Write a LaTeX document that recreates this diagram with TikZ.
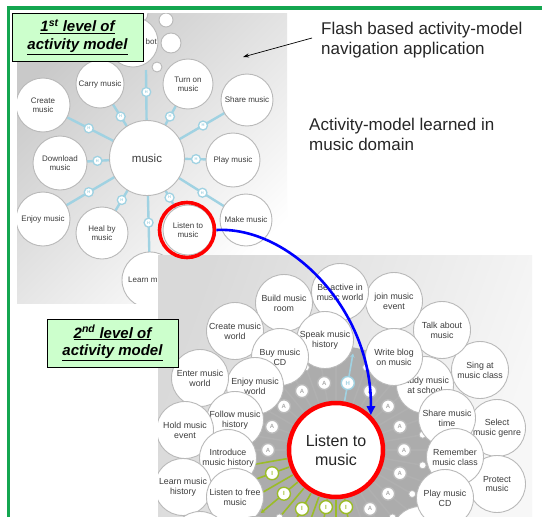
\documentclass[tikz,border=0pt]{standalone}
\usepackage{fontspec}
\setmainfont{Liberation Sans}
\usetikzlibrary{arrows.meta,calc}
\definecolor{frameg}{RGB}{20,166,80}
\definecolor{labfill}{RGB}{204,255,204}
\definecolor{hblue}{RGB}{160,210,226}
\definecolor{igreen}{RGB}{155,188,40}
\definecolor{ringgray}{RGB}{172,172,172}
\definecolor{txt}{RGB}{60,60,60}
\tikzset{
  bub/.style={circle,draw=gray!55,fill=white,line width=0.9pt,align=center,inner sep=0pt,text=txt,font=\fontsize{8}{9}\selectfont},
  bubb/.style={bub,minimum size=57pt,font=\fontsize{8.8}{9.8}\selectfont},
  hbadge/.style={circle,draw=hblue,fill=white,line width=1.3pt,minimum size=9pt,inner sep=0pt,font=\fontsize{4}{4}\selectfont\bfseries,text=hblue},
  abadge/.style={circle,draw=gray!55,fill=white,line width=1.4pt,minimum size=13pt,inner sep=0pt,font=\fontsize{6}{6}\selectfont\bfseries,text=gray!65},
  ibadge/.style={abadge,draw=igreen,text=igreen},
  nub/.style={circle,draw=gray!55,fill=white,line width=0.8pt,minimum size=7pt,inner sep=0pt},
  lvlbox/.style={draw=black,line width=1pt,fill=labfill,align=center,font=\fontsize{15}{17.5}\selectfont\bfseries\itshape,inner sep=2pt,minimum width=131pt,minimum height=48pt},
  notetext/.style={align=left,font=\fontsize{17}{20}\selectfont,anchor=north west,inner sep=0pt,text=black!85},
  spoke/.style={draw=hblue,line width=2.4pt},
  gspoke/.style={draw=gray!62,line width=1.6pt,-{Stealth[length=4pt,width=4.5pt]}},
}
\begin{document}
\begin{tikzpicture}[x=1pt,y=-1pt]
\useasboundingbox (0,0) rectangle (542,517);
\fill[white] (0,0) rectangle (542,517);

% ---------- first level screenshot ----------
\begin{scope}
\clip (17,13) rectangle (287,303);
\shade[left color=gray!42, right color=white, shading angle=45] (17,13) rectangle (287,303);
\coordinate (Pm) at (147,158);
\coordinate (Pup) at (146,70);
\coordinate (Pcarry) at (100,84);
\coordinate (Pcreate) at (43,105);
\coordinate (Pturn) at (188,84);
\coordinate (Pshare) at (247,100);
\coordinate (Pdown) at (60,163);
\coordinate (Pplay) at (233,160);
\coordinate (Penjoy) at (43,219);
\coordinate (Pheal) at (102,233);
\coordinate (Plis) at (188,230);
\coordinate (Pmake) at (246,220);
\coordinate (Plearn) at (150,280);
\draw[spoke] (Pm) -- node[hbadge,pos=0.75] (h1) {H} (Pup);
\draw[spoke] (Pm) -- node[hbadge,pos=0.56] (h2) {H} (Pcarry);
\draw[spoke] (Pm) -- node[hbadge,pos=0.56] (h3) {H} (Pcreate);
\draw[spoke] (Pm) -- node[hbadge,pos=0.56] (h4) {H} (Pturn);
\draw[spoke] (Pm) -- node[hbadge,pos=0.56] (h5) {H} (Pshare);
\draw[spoke] (Pm) -- node[hbadge,pos=0.57] (h6) {H} (Pdown);
\draw[spoke] (Pm) -- node[hbadge,pos=0.57] (h7) {H} (Pplay);
\draw[spoke] (Pm) -- node[hbadge,pos=0.56] (h8) {H} (Penjoy);
\draw[spoke] (Pm) -- node[hbadge,pos=0.56] (h9) {H} (Pheal);
\draw[spoke] (Pm) -- node[hbadge,pos=0.55] (h10) {H} (Plis);
\draw[spoke] (Pm) -- node[hbadge,pos=0.56] (h11) {H} (Pmake);
\draw[spoke] (Pm) -- node[hbadge,pos=0.53] (h12) {H} (Plearn);
% top small bubbles
\node[bub,minimum size=22pt] (s0) at (137,13) {};
\node[bub,minimum size=50pt] (bot) at (133,42) {};
\node[anchor=east,inner sep=0pt,text=txt,font=\fontsize{8}{9}\selectfont] (bottxt) at (157,42) {bot};
\node[bub,minimum size=14pt] (s1) at (166,20) {};
\node[bub,minimum size=20pt] (s2) at (171,43) {};
\node[bub,minimum size=10pt] (s3) at (157,67) {};
% bubbles
\node[bub,minimum size=48pt] (carry) at (Pcarry) {Carry music};
\node[bub,minimum size=54pt] (create) at (Pcreate) {Create\\music};
\node[bub,minimum size=50pt] (turn) at (Pturn) {Turn on\\music};
\node[bub,minimum size=52pt] (share) at (Pshare) {Share music};
\node[bub,minimum size=54pt] (down) at (Pdown) {Download\\music};
\node[bub,minimum size=54pt] (play) at (Pplay) {Play music};
\node[bub,minimum size=54pt] (enjoy) at (Penjoy) {Enjoy music};
\node[bub,minimum size=52pt] (heal) at (Pheal) {Heal by\\music};
\node[bub,minimum size=50pt] (lis1) at (Plis) {Listen to\\music};
\node[bub,minimum size=52pt] (make) at (Pmake) {Make music};
\node[bub,minimum size=56pt] (learn) at (Plearn) {Learn music};
\node[bub,minimum size=75pt,font=\fontsize{11.5}{12}\selectfont] (music) at (Pm) {music};
\end{scope}

\node[lvlbox] (lab1) at (77.5,37) {\underline{1\textsuperscript{st} level of}\\\underline{activity model}};

% ---------- second level screenshot ----------
\begin{scope}
\clip (158,255) rectangle (532,517);
\shade[left color=gray!30, right color=gray!6, shading angle=70] (158,255) rectangle (532,517);
\coordinate (C) at (336,450);
\fill[ringgray] (C) circle (104pt);
\foreach \a in {0,10,20,30,40,50,60,70,180,190,200,210,220,230,240,250,260,270,290,300,310,320,330,340,350}
  \draw[gspoke] ($(C)+(\a:50)$) -- ($(C)+(\a:98)$);
\foreach \a in {80,90,...,170}
  \draw[gspoke,draw=igreen] ($(C)+(\a:50)$) -- ($(C)+(\a:98)$);
\draw[gspoke,draw=hblue] ($(C)+(280:50)$) -- ($(C)+(280:98)$);
\foreach \a in {10,30,...,350}
  \node[nub] (n\a) at ($(C)+(\a:88)$) {};
\foreach \a in {0,20,40,60,180,200,220,240,260,300,320,340}
  \node[abadge] (a\a) at ($(C)+(\a:68)$) {A};
\foreach \a in {120,140,160}
  \node[ibadge] (i\a) at ($(C)+(\a:68)$) {I};
\node[ibadge] (i80) at ($(C)+(80:58)$) {I};
\node[ibadge] (i100) at ($(C)+(100:58)$) {I};
\node[abadge,draw=hblue,text=hblue] (h280) at ($(C)+(280:68)$) {H};
% outer bubbles
\node[bubb] (sing) at (480,370) {Sing at\\music class};
\node[bubb] (select) at (497,428) {Select\\music genre};
\node[bubb] (protect) at (497,484) {Protect\\music};
\node[bubb] (talk) at (442,330) {Talk about\\music};
\node[bubb] (join) at (394,301) {join music\\event};
\node[bubb] (beact) at (340,292) {Be active in\\music world};
\node[bubb] (build) at (284,303) {Build music\\room};
\node[bubb] (speak) at (325,340) {Speak music\\history};
\node[bubb] (cworld) at (235,331) {Create music\\world};
\node[bubb] (buy) at (280,357) {Buy music\\CD};
\node[bubb] (eworld) at (255,386) {Enjoy music\\world};
\node[bubb] (enter) at (200,378) {Enter music\\world};
\node[bubb] (follow) at (235,420) {Follow music\\history};
\node[bubb] (hold) at (185,430) {Hold music\\event};
\node[bubb] (intro) at (228,458) {Introduce\\music history};
\node[bubb] (lhist) at (183,487) {Learn music\\history};
\node[bubb] (lfree) at (235,497) {Listen to free\\music};
\node[bubb] (b1) at (200,540) {};
\node[bubb] (b2) at (255,545) {};
\node[bubb] (b3) at (420,535) {};
\node[bubb] (study) at (425,385) {Study music\\at school};
\node[bubb] (write) at (394,357) {Write blog\\on music};
\node[bubb] (sharet) at (447,418) {Share music\\time};
\node[bubb] (remem) at (455,457) {Remember\\music class};
\node[bubb] (playcd) at (445,498) {Play music\\CD};
\end{scope}

\node[circle,draw=red,line width=4.5pt,fill=white,minimum size=94pt,inner sep=0pt,align=center,text=black!85,font=\fontsize{16}{19}\selectfont] (red2) at (C) {Listen to\\music};
\node[lvlbox] (lab2) at (112.5,343) {\underline{2\textsuperscript{nd} level of}\\\underline{activity model}};

\node[circle,draw=red,line width=3.6pt,minimum size=55pt,inner sep=0pt] (red1) at (187,230) {};
\draw[blue,line width=2.6pt,-{Triangle[length=9pt,width=8pt]}] (red1.east) .. controls (290,226) and (372,310) .. (red2.north east);

% notes
\node[notetext] (flash) at (321,21.5) {Flash based activity-model\\navigation application};
\coordinate (astart) at (312,38);
\coordinate (atip) at (243,57);
\draw[line width=0.7pt,-{Stealth[length=6pt,width=4pt]}] (astart) -- (atip);
\node[notetext] (learned) at (309,117.5) {Activity-model learned in\\music domain};

% green frame
\draw[frameg,line width=3.5pt] (8.5,517) -- (8.5,8) -- (542,8);
\end{tikzpicture}
\end{document}
